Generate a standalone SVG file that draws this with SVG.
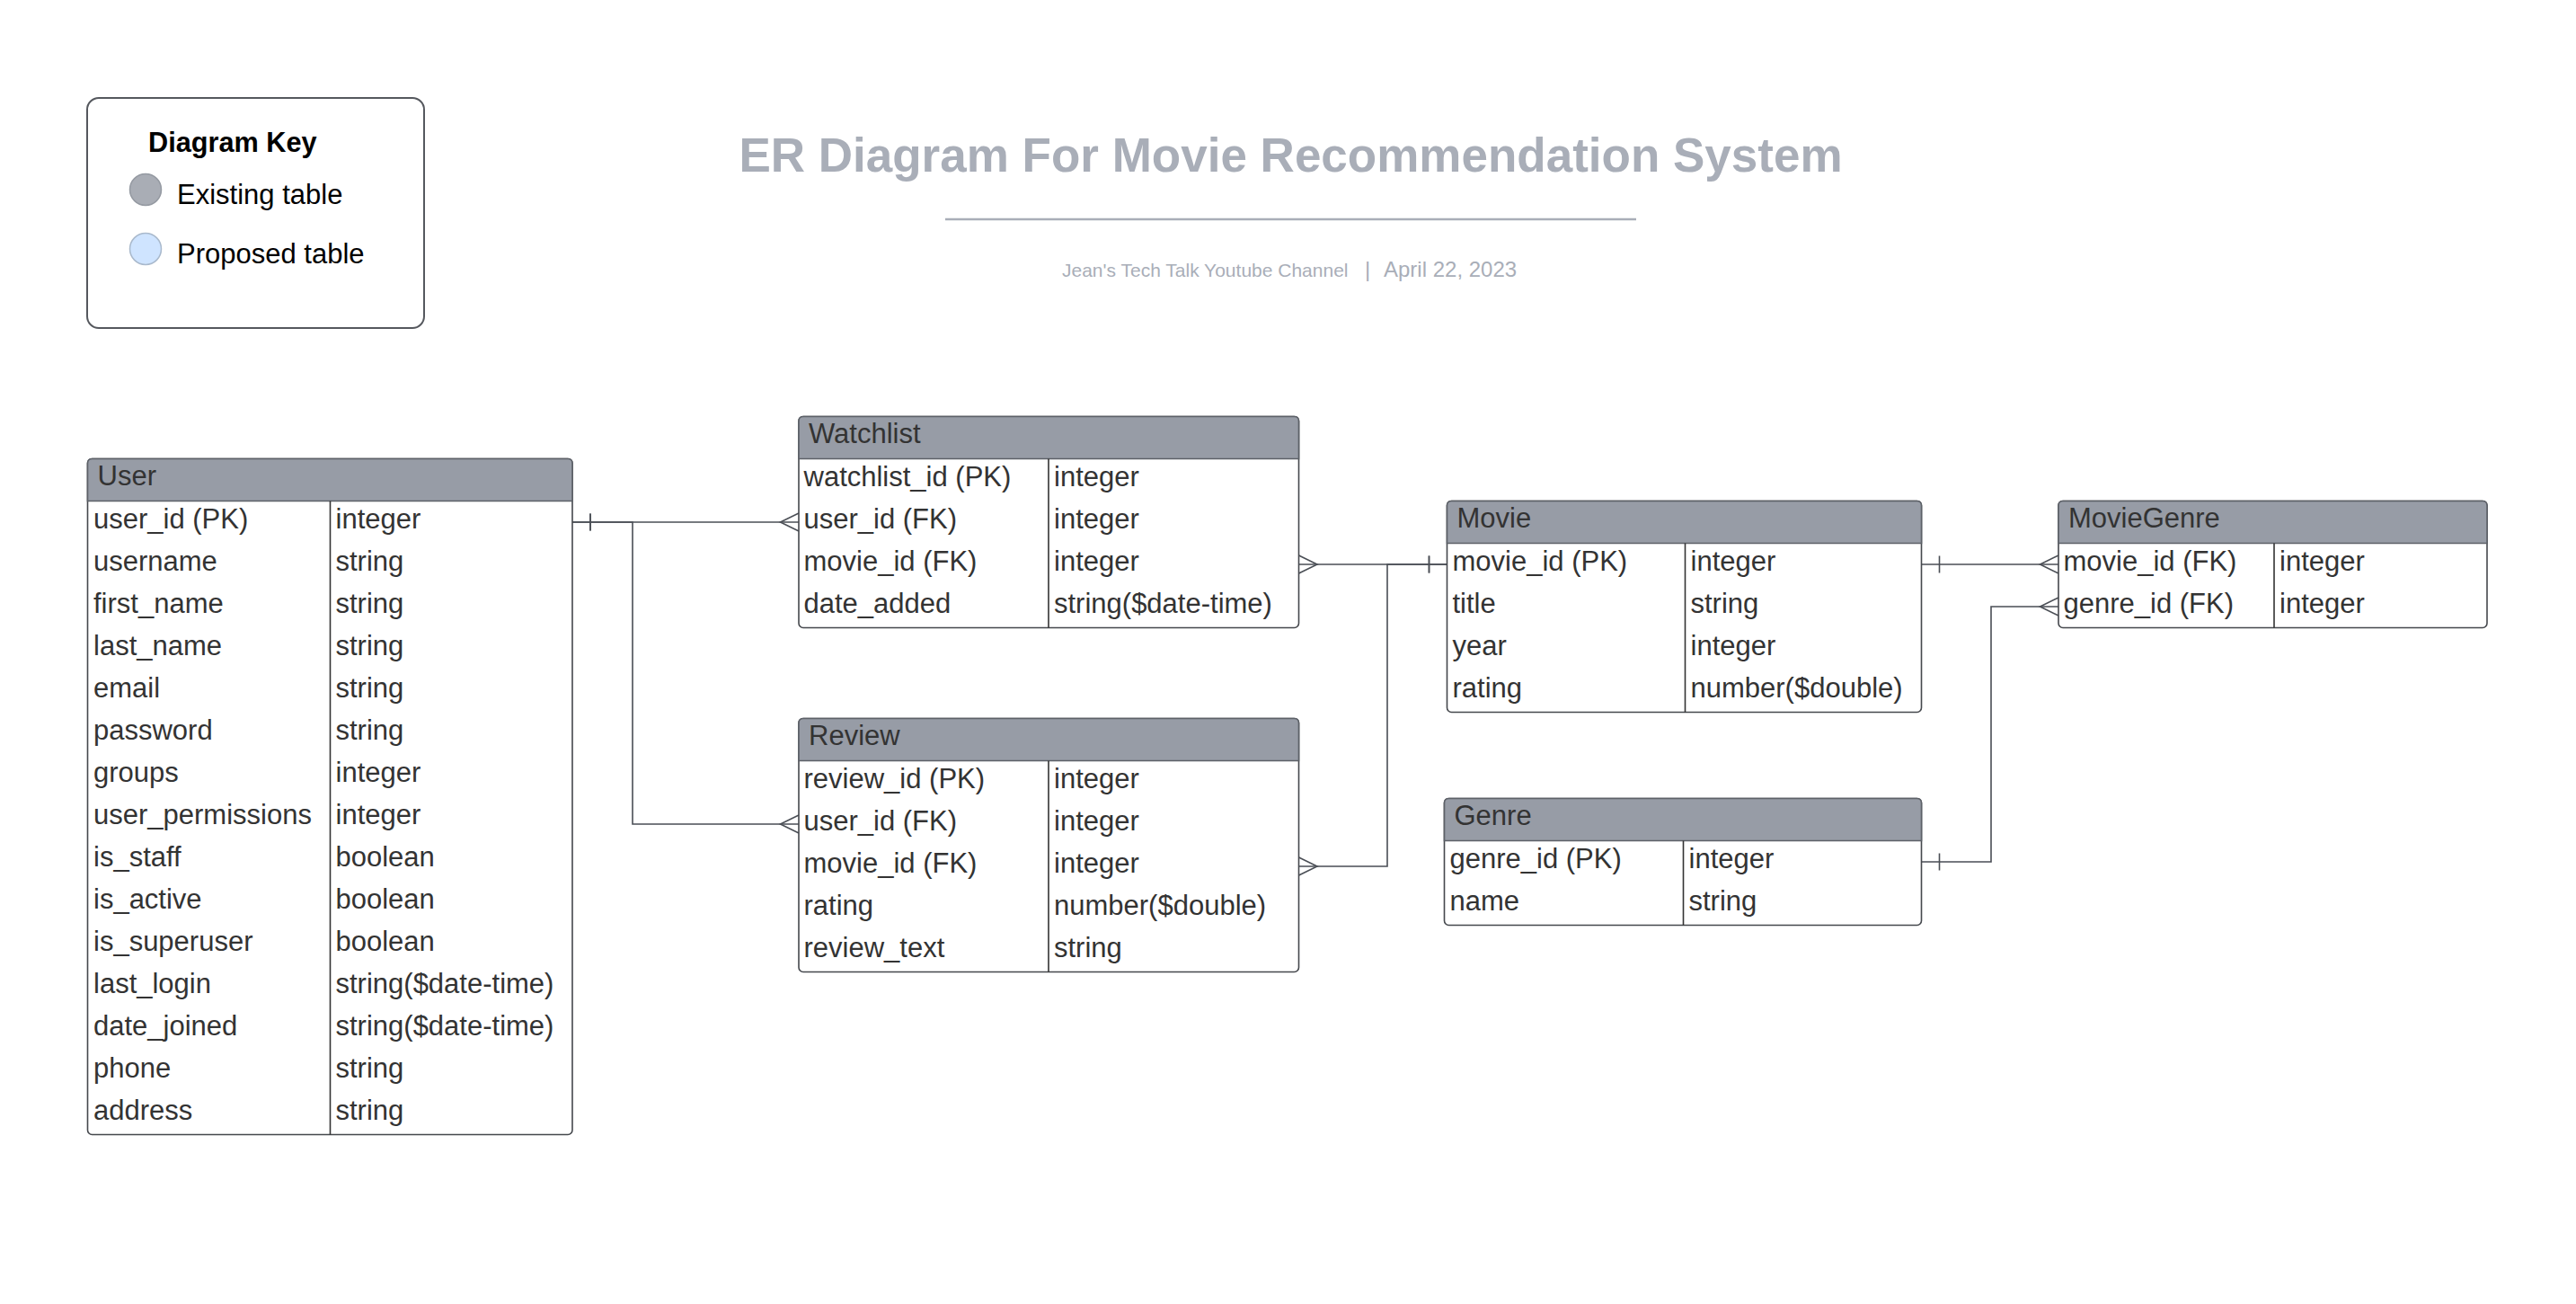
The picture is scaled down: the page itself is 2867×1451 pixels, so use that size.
<svg xmlns="http://www.w3.org/2000/svg" width="2867" height="1451" viewBox="0 0 2867 1451">
<style>
text{font-family:"Liberation Sans",Arial,sans-serif}
.t{font-size:31px;fill:#333333}
.ht{font-size:31px;fill:#333333}
.body{fill:#ffffff;stroke:#45484d;stroke-width:1.6}
.head{fill:#979ca6;stroke:#5d6168;stroke-width:1.6}
.div{stroke:#333333;stroke-width:1.6}
.conn{fill:none;stroke:#4a4e55;stroke-width:1.6}
.mk{fill:none;stroke:#4a4e55;stroke-width:1.6}
.gray{fill:#a9aeb8}
</style>
<defs>
<marker id="many" markerUnits="userSpaceOnUse" viewBox="-23 -12 25 24" refX="0" refY="0" markerWidth="25" markerHeight="24" orient="auto-start-reverse" overflow="visible">
<path class="mk" d="M0,-10 L-20.5,0 L0,10"/>
</marker>
<marker id="one" markerUnits="userSpaceOnUse" viewBox="-23 -12 25 24" refX="0" refY="0" markerWidth="25" markerHeight="24" orient="auto-start-reverse" overflow="visible">
<path class="mk" d="M-20,-9.5 L-20,9.5"/>
</marker>
</defs>
<rect x="0" y="0" width="2867" height="1451" fill="#ffffff"/>

<g id="legend">
<rect x="97" y="109" width="375" height="256" rx="13" fill="#ffffff" stroke="#55585e" stroke-width="2"/>
<text x="165" y="169" font-size="30.7" font-weight="bold" fill="#000000">Diagram Key</text>
<circle cx="162" cy="211" r="17.5" fill="#a9adb5" stroke="#959aa2" stroke-width="1.5"/>
<text x="197" y="227" font-size="31" fill="#000000">Existing table</text>
<circle cx="162" cy="277" r="17.5" fill="#cfe4ff" stroke="#a9b9cc" stroke-width="1.5"/>
<text x="197" y="293" font-size="31" fill="#000000">Proposed table</text>
</g>

<g id="title">
<text x="1436.5" y="191" font-size="53" font-weight="bold" text-anchor="middle" class="gray">ER Diagram For Movie Recommendation System</text>
<line x1="1052" y1="244" x2="1821" y2="244" stroke="#a9aeb8" stroke-width="2.5"/>
<text x="1182" y="308" font-size="21" class="gray">Jean's Tech Talk Youtube Channel</text>
<text x="1519" y="308" font-size="24" class="gray">|</text>
<text x="1540" y="308" font-size="24" class="gray">April 22, 2023</text>
</g>

<g id="connectors">
<path class="conn" d="M637,581 H889" marker-start="url(#one)" marker-end="url(#many)"/>
<path class="conn" d="M637,581 H704 V917 H889" marker-start="url(#one)" marker-end="url(#many)"/>
<path class="conn" d="M1445.5,628 H1610.5" marker-start="url(#many)" marker-end="url(#one)"/>
<path class="conn" d="M1445.5,964 H1544 V628 H1610.5" marker-start="url(#many)" marker-end="url(#one)"/>
<path class="conn" d="M2138.5,628 H2291" marker-start="url(#one)" marker-end="url(#many)"/>
<path class="conn" d="M2138.5,959 H2216 V675 H2291" marker-start="url(#one)" marker-end="url(#many)"/>
</g>

<g id="user">
<rect class="body" x="97.5" y="510.5" width="539.5" height="752" rx="5"/>
<path class="head" d="M97.5,557.5 V515.5 Q97.5,510.5 102.5,510.5 H632 Q637,510.5 637,515.5 V557.5 Z"/>
<line class="div" x1="367.5" y1="557.5" x2="367.5" y2="1262.5"/>
<text class="ht" x="108.5" y="540">User</text>
<text class="t" x="104" y="587.5">user_id (PK)</text><text class="t" x="373.5" y="587.5">integer</text>
<text class="t" x="104" y="634.5">username</text><text class="t" x="373.5" y="634.5">string</text>
<text class="t" x="104" y="681.5">first_name</text><text class="t" x="373.5" y="681.5">string</text>
<text class="t" x="104" y="728.5">last_name</text><text class="t" x="373.5" y="728.5">string</text>
<text class="t" x="104" y="775.5">email</text><text class="t" x="373.5" y="775.5">string</text>
<text class="t" x="104" y="822.5">password</text><text class="t" x="373.5" y="822.5">string</text>
<text class="t" x="104" y="869.5">groups</text><text class="t" x="373.5" y="869.5">integer</text>
<text class="t" x="104" y="916.5">user_permissions</text><text class="t" x="373.5" y="916.5">integer</text>
<text class="t" x="104" y="963.5">is_staff</text><text class="t" x="373.5" y="963.5">boolean</text>
<text class="t" x="104" y="1010.5">is_active</text><text class="t" x="373.5" y="1010.5">boolean</text>
<text class="t" x="104" y="1057.5">is_superuser</text><text class="t" x="373.5" y="1057.5">boolean</text>
<text class="t" x="104" y="1104.5">last_login</text><text class="t" x="373.5" y="1104.5">string($date-time)</text>
<text class="t" x="104" y="1151.5">date_joined</text><text class="t" x="373.5" y="1151.5">string($date-time)</text>
<text class="t" x="104" y="1198.5">phone</text><text class="t" x="373.5" y="1198.5">string</text>
<text class="t" x="104" y="1245.5">address</text><text class="t" x="373.5" y="1245.5">string</text>
</g>

<g id="watchlist">
<rect class="body" x="889" y="463.5" width="556.5" height="235" rx="5"/>
<path class="head" d="M889,510.5 V468.5 Q889,463.5 894,463.5 H1440.5 Q1445.5,463.5 1445.5,468.5 V510.5 Z"/>
<line class="div" x1="1167" y1="510.5" x2="1167" y2="698.5"/>
<text class="ht" x="900" y="493">Watchlist</text>
<text class="t" x="894.5" y="540.5">watchlist_id (PK)</text><text class="t" x="1173" y="540.5">integer</text>
<text class="t" x="894.5" y="587.5">user_id (FK)</text><text class="t" x="1173" y="587.5">integer</text>
<text class="t" x="894.5" y="634.5">movie_id (FK)</text><text class="t" x="1173" y="634.5">integer</text>
<text class="t" x="894.5" y="681.5">date_added</text><text class="t" x="1173" y="681.5">string($date-time)</text>
</g>

<g id="review">
<rect class="body" x="889" y="799.5" width="556.5" height="282" rx="5"/>
<path class="head" d="M889,846.5 V804.5 Q889,799.5 894,799.5 H1440.5 Q1445.5,799.5 1445.5,804.5 V846.5 Z"/>
<line class="div" x1="1167" y1="846.5" x2="1167" y2="1081.5"/>
<text class="ht" x="900" y="829">Review</text>
<text class="t" x="894.5" y="876.5">review_id (PK)</text><text class="t" x="1173" y="876.5">integer</text>
<text class="t" x="894.5" y="923.5">user_id (FK)</text><text class="t" x="1173" y="923.5">integer</text>
<text class="t" x="894.5" y="970.5">movie_id (FK)</text><text class="t" x="1173" y="970.5">integer</text>
<text class="t" x="894.5" y="1017.5">rating</text><text class="t" x="1173" y="1017.5">number($double)</text>
<text class="t" x="894.5" y="1064.5">review_text</text><text class="t" x="1173" y="1064.5">string</text>
</g>

<g id="movie">
<rect class="body" x="1610.5" y="557.5" width="528" height="235" rx="5"/>
<path class="head" d="M1610.5,604.5 V562.5 Q1610.5,557.5 1615.5,557.5 H2133.5 Q2138.5,557.5 2138.5,562.5 V604.5 Z"/>
<line class="div" x1="1875.5" y1="604.5" x2="1875.5" y2="792.5"/>
<text class="ht" x="1621.5" y="587">Movie</text>
<text class="t" x="1616.5" y="634.5">movie_id (PK)</text><text class="t" x="1881.5" y="634.5">integer</text>
<text class="t" x="1616.5" y="681.5">title</text><text class="t" x="1881.5" y="681.5">string</text>
<text class="t" x="1616.5" y="728.5">year</text><text class="t" x="1881.5" y="728.5">integer</text>
<text class="t" x="1616.5" y="775.5">rating</text><text class="t" x="1881.5" y="775.5">number($double)</text>
</g>

<g id="genre">
<rect class="body" x="1607.5" y="888.5" width="531" height="141" rx="5"/>
<path class="head" d="M1607.5,935.5 V893.5 Q1607.5,888.5 1612.5,888.5 H2133.5 Q2138.5,888.5 2138.5,893.5 V935.5 Z"/>
<line class="div" x1="1873.5" y1="935.5" x2="1873.5" y2="1029.5"/>
<text class="ht" x="1618.5" y="918">Genre</text>
<text class="t" x="1613.5" y="965.5">genre_id (PK)</text><text class="t" x="1879.5" y="965.5">integer</text>
<text class="t" x="1613.5" y="1012.5">name</text><text class="t" x="1879.5" y="1012.5">string</text>
</g>

<g id="moviegenre">
<rect class="body" x="2291" y="557.5" width="477" height="141" rx="5"/>
<path class="head" d="M2291,604.5 V562.5 Q2291,557.5 2296,557.5 H2763 Q2768,557.5 2768,562.5 V604.5 Z"/>
<line class="div" x1="2531" y1="604.5" x2="2531" y2="698.5"/>
<text class="ht" x="2302" y="587">MovieGenre</text>
<text class="t" x="2296.5" y="634.5">movie_id (FK)</text><text class="t" x="2537" y="634.5">integer</text>
<text class="t" x="2296.5" y="681.5">genre_id (FK)</text><text class="t" x="2537" y="681.5">integer</text>
</g>
</svg>
